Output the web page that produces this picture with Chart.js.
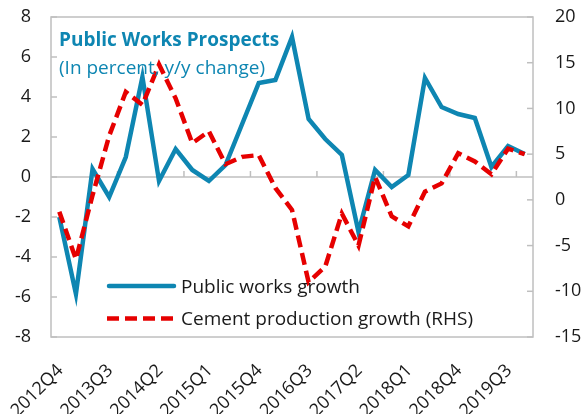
<!DOCTYPE html>
<html>
<head>
<meta charset="utf-8">
<script src="https://cdn.jsdelivr.net/npm/chart.js@4.4.1/dist/chart.umd.min.js"></script>
<style>
  html, body { margin: 0; padding: 0; background: #fff; }
  #wrap { width: 584px; height: 414px; }
</style>
</head>
<body>
<div id="wrap"><canvas id="chart"></canvas></div>
<script>
// Quarterly categories
const quarters = [
    '2012Q4',
    '2013Q1', '2013Q2', '2013Q3', '2013Q4',
    '2014Q1', '2014Q2', '2014Q3', '2014Q4',
    '2015Q1', '2015Q2', '2015Q3', '2015Q4',
    '2016Q1', '2016Q2', '2016Q3', '2016Q4',
    '2017Q1', '2017Q2', '2017Q3', '2017Q4',
    '2018Q1', '2018Q2', '2018Q3', '2018Q4',
    '2019Q1', '2019Q2', '2019Q3', '2019Q4'
];

// Public works growth, percent y/y (left axis)
const publicWorks = [-2.0, -5.85, 0.4, -1.0, 1.0, 5.0, -0.2, 1.4, 0.35, -0.2,
    0.6, 2.65, 4.7, 4.85, 7.0, 2.9, 1.9, 1.1, -2.75, 0.35,
    -0.5, 0.1, 4.95, 3.5, 3.15, 2.95, 0.5, 1.55, 1.15];

// Cement production growth, percent y/y (right axis)
const cement = [-1.3, -6.5, 0.5, 7.0, 11.8, 10.4, 14.8, 11.1, 6.2, 7.5,
    3.9, 4.7, 4.9, 1.3, -1.1, -9.0, -7.3, -1.5, -5.0, 2.5,
    -1.8, -2.9, 0.9, 1.8, 5.1, 4.2, 2.8, 5.6, 5.0];

const leftTicks = { min: -8, max: 8, step: 2 };
const rightTicks = { min: -15, max: 20, step: 5 };

const BLUE = '#0e86b2';
const RED = '#e60000';
const GRAY = '#bfbfbf';
const TEXT = '#1a1a1a';
const FONT = '"Open Sans", "Noto Sans", sans-serif';

// Frame, zero line, inside tick marks, title and legend
const decorations = {
    id: 'decorations',
    beforeDatasetsDraw(chart) {
        const { ctx, chartArea: a, scales } = chart;
        const seg = (x1, y1, x2, y2) => {
            ctx.beginPath();
            ctx.moveTo(x1, y1);
            ctx.lineTo(x2, y2);
            ctx.stroke();
        };
        ctx.save();
        ctx.strokeStyle = GRAY;
        ctx.lineWidth = 1.5;
        ctx.strokeRect(a.left, a.top, a.width, a.height);

        const y0 = scales.y.getPixelForValue(0);
        seg(a.left, y0, a.right, y0);

        scales.y.ticks.forEach(t => {
            const y = scales.y.getPixelForValue(t.value);
            seg(a.left, y, a.left + 6, y);
        });
        scales.y1.ticks.forEach(t => {
            const y = scales.y1.getPixelForValue(t.value);
            seg(a.right - 6, y, a.right, y);
        });

        const half = (scales.x.getPixelForValue(1) - scales.x.getPixelForValue(0)) / 2;
        for (let i = 4; i < quarters.length; i += 4) {
            const x = scales.x.getPixelForValue(i) - half;
            seg(x, y0, x, y0 - 6);
        }
        ctx.restore();
    },
    afterDraw(chart) {
        const { ctx } = chart;
        ctx.save();
        ctx.textBaseline = 'alphabetic';
        ctx.fillStyle = BLUE;
        ctx.font = 'bold 19px ' + FONT;
        ctx.fillText('Public Works Prospects', 59, 46);
        ctx.font = '19px ' + FONT;
        ctx.fillText('(In percent, y/y change)', 59, 74);

        // legend
        const rows = [{ line: 286, text: 292.5 }, { line: 318.5, text: 325 }];
        chart.data.datasets.forEach((ds, i) => {
            const r = rows[i];
            ctx.strokeStyle = ds.borderColor;
            ctx.lineWidth = ds.borderWidth;
            ctx.lineCap = ds.borderDash.length ? 'butt' : 'round';
            ctx.setLineDash(ds.borderDash);
            ctx.beginPath();
            ctx.moveTo(ds.borderDash.length ? 107 : 109, r.line);
            ctx.lineTo(ds.borderDash.length ? 176 : 174, r.line);
            ctx.stroke();
            ctx.setLineDash([]);
            ctx.fillStyle = TEXT;
            ctx.font = '19px ' + FONT;
            ctx.fillText(ds.label, 181, r.text);
        });
        ctx.restore();
    }
};

// fixed axis sizes so the plot area sits where it does in the original
function fixVertical(s) {
    s.width = 51;
    s.paddingTop = 0;
    s.paddingBottom = 0;
}
function fixHorizontal(s) {
    s.height = 77;
    s.paddingLeft = 0;
    s.paddingRight = 0;
}

new Chart(document.getElementById('chart'), {
    type: 'line',
    data: {
        labels: quarters,
        datasets: [{
            label: 'Public works growth',
            data: publicWorks,
            yAxisID: 'y',
            borderColor: BLUE,
            borderWidth: 4.5,
            borderDash: [],
            borderJoinStyle: 'miter',
            pointRadius: 0,
            tension: 0,
            order: 2
        }, {
            label: 'Cement production growth (RHS)',
            data: cement,
            yAxisID: 'y1',
            borderColor: RED,
            borderWidth: 4.5,
            borderDash: [12, 6],
            pointRadius: 0,
            tension: 0,
            order: 1
        }]
    },
    options: {
        responsive: true,
        maintainAspectRatio: false,
        animation: false,
        layout: { padding: { top: 17, left: 0, right: 0, bottom: 0 } },
        plugins: {
            legend: { display: false },
            tooltip: { enabled: false }
        },
        scales: {
            x: {
                offset: true,
                grid: { display: false, drawTicks: false },
                border: { display: false },
                ticks: {
                    autoSkip: false,
                    minRotation: 45,
                    maxRotation: 45,
                    padding: 23,
                    labelOffset: 1,
                    color: TEXT,
                    font: { family: FONT, size: 18 },
                    callback: function (v, i) { return i % 3 === 0 ? quarters[i] : ''; }
                },
                afterFit: fixHorizontal
            },
            y: {
                position: 'left',
                min: leftTicks.min,
                max: leftTicks.max,
                grid: { display: false, drawTicks: false },
                border: { display: false },
                ticks: {
                    stepSize: leftTicks.step,
                    padding: 20,
                    color: TEXT,
                    font: { family: FONT, size: 18 }
                },
                afterFit: fixVertical
            },
            y1: {
                position: 'right',
                min: rightTicks.min,
                max: rightTicks.max,
                grid: { display: false, drawTicks: false },
                border: { display: false },
                ticks: {
                    stepSize: rightTicks.step,
                    padding: 22,
                    color: TEXT,
                    font: { family: FONT, size: 18 }
                },
                afterFit: fixVertical
            }
        }
    },
    plugins: [decorations]
});
</script>
</body>
</html>
